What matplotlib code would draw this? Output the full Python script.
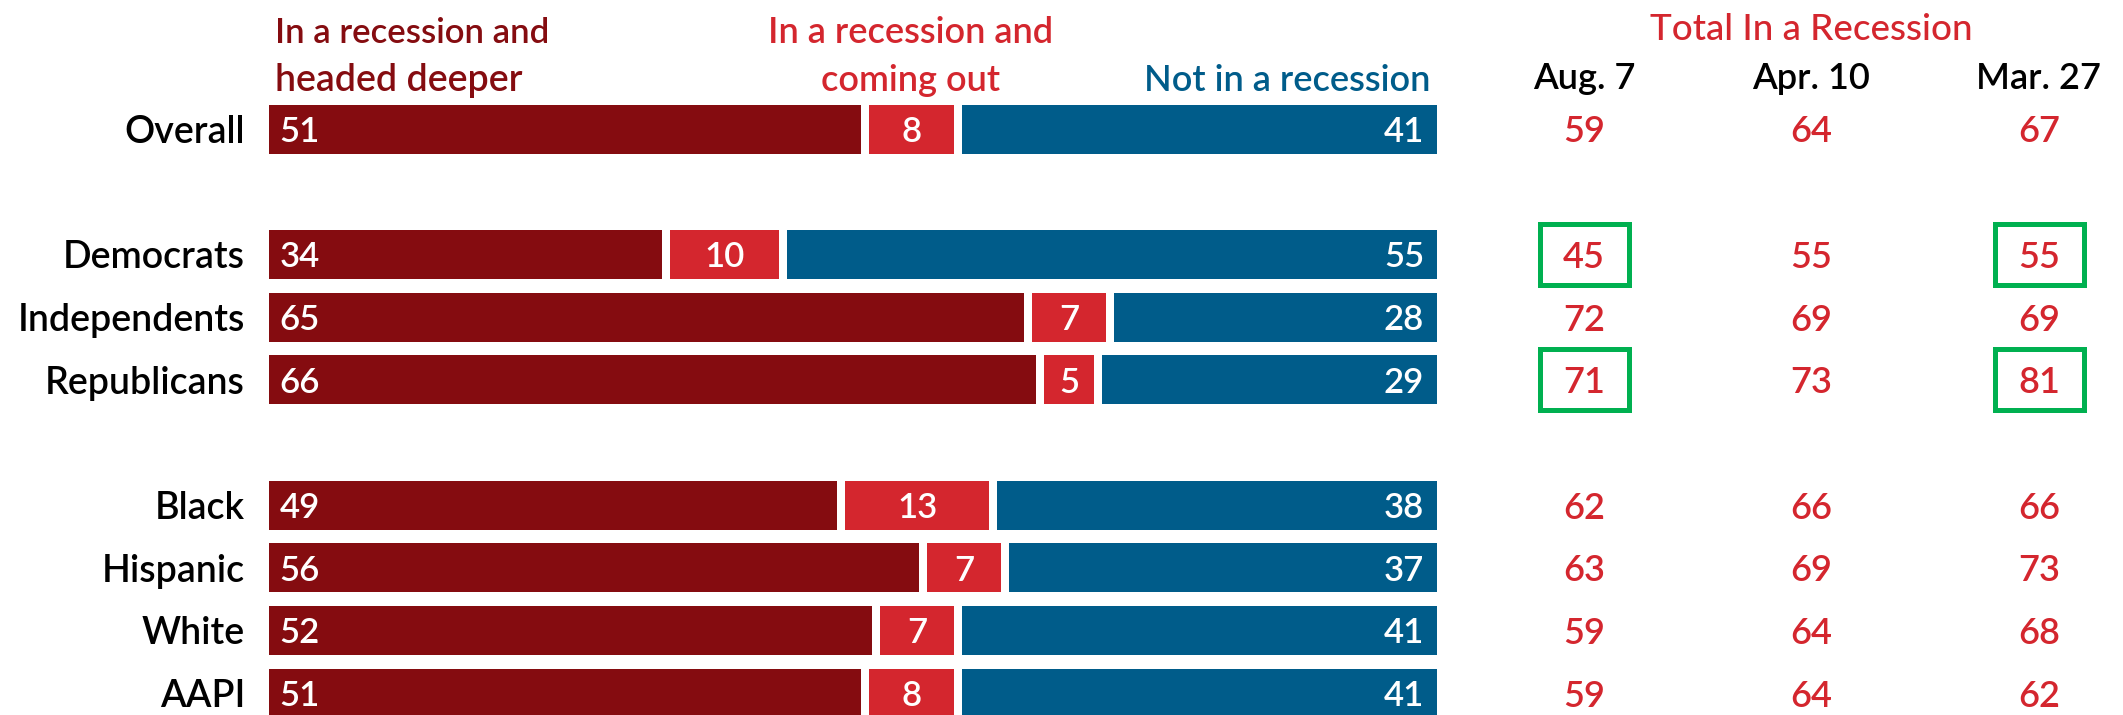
import matplotlib
matplotlib.use("Agg")
import matplotlib.pyplot as plt
from matplotlib.patches import Rectangle

plt.rcParams['font.family'] = ['Lato', 'DejaVu Sans']

# ---------------- data ----------------
categories = ["Overall", "Democrats", "Independents", "Republicans",
              "Black", "Hispanic", "White", "AAPI"]
groups = [1, 3, 4]  # number of rows in each group (blank row between groups)

deeper = [51, 34, 65, 66, 49, 56, 52, 51]
coming_out = [8, 10, 7, 5, 13, 7, 7, 8]
not_in = [41, 55, 28, 29, 38, 37, 41, 41]

series_labels = ["In a recession and\nheaded deeper",
                 "In a recession and\ncoming out",
                 "Not in a recession"]

table_title = "Total In a Recession"
dates = ["Aug. 7", "Apr. 10", "Mar. 27"]
aug7 = [59, 45, 72, 71, 62, 63, 59, 59]
apr10 = [64, 55, 69, 73, 66, 69, 64, 64]
mar27 = [67, 55, 69, 81, 66, 73, 68, 62]
highlights = [("Democrats", "Aug. 7"), ("Democrats", "Mar. 27"),
              ("Republicans", "Aug. 7"), ("Republicans", "Mar. 27")]

# ---------------- style ----------------
DARK = "#850C10"
RED = "#D4262E"
BLUE = "#005C8A"
GREEN = "#00B050"
W, H = 2123, 715
WT = "semibold"

# row positions
ypos = []
pos = 0
for g in groups:
    for _ in range(g):
        ypos.append(pos)
        pos += 1
    pos += 1

fig = plt.figure(figsize=(W / 100, H / 100), dpi=100)
fig.patch.set_facecolor("white")

row_px = 62.67
top_px = 129.0
y_top = -top_px / row_px
y_bot = ypos[-1] + (H - (top_px + ypos[-1] * row_px)) / row_px

def py(p):
    """pixel from top -> data y"""
    return (p - top_px) / row_px

# bar axes
bx0, bx1 = 269, 1437
ax = fig.add_axes([bx0 / W, 0, (bx1 - bx0) / W, 1])
ax.set_xlim(0, 100)
ax.set_ylim(y_bot, y_top)
ax.axis("off")

unit = (bx1 - bx0) / 100.0
gap = 8 / unit
bh = 49 / row_px

for y, a, b, c in zip(ypos, deeper, coming_out, not_in):
    ax.barh(y, a - gap / 2, left=0, height=bh, color=DARK)
    ax.barh(y, b - gap, left=a + gap / 2, height=bh, color=RED)
    blue_left = a + b + gap / 2
    ax.barh(y, 100 - blue_left, left=blue_left, height=bh, color=BLUE)
    fs = 25
    ax.text(0.9, y, str(a), color="white", fontsize=fs, ha="left",
            va="center_baseline", fontweight=WT)
    ax.text(a + b / 2, y, str(b), color="white", fontsize=fs, ha="center",
            va="center_baseline", fontweight=WT)
    ax.text(100 - 1.1, y, str(c), color="white", fontsize=fs, ha="right",
            va="center_baseline", fontweight=WT)

for y, name in zip(ypos, categories):
    ax.text(-2.05, y, name, color="black", fontsize=27, ha="right",
            va="center_baseline", fontweight=WT, clip_on=False)

# series headers
h1 = series_labels[0].split("\n")
h2 = series_labels[1].split("\n")
hfs = 26
ax.text(0.5, py(43), h1[0], color=DARK, fontsize=hfs - 1, ha="left", va="baseline", fontweight=WT)
ax.text(0.5, py(91), h1[1], color=DARK, fontsize=hfs + 1, ha="left", va="baseline", fontweight=WT)
ax.text(54.9, py(43), h2[0], color=RED, fontsize=hfs, ha="center", va="baseline", fontweight=WT)
ax.text(54.9, py(91), h2[1], color=RED, fontsize=hfs, ha="center", va="baseline", fontweight=WT)
ax.text(99.4, py(91), series_labels[2], color=BLUE, fontsize=hfs, ha="right", va="baseline", fontweight=WT)

# table axes
tx0 = 1470
col_px = 227.5
c0 = 1584
ax2 = fig.add_axes([tx0 / W, 0, (W - tx0) / W, 1])
ax2.set_xlim((tx0 - c0) / col_px, (W - c0) / col_px)
ax2.set_ylim(y_bot, y_top)
ax2.axis("off")

cols = [aug7, apr10, mar27]
ax2.text(1, py(40), table_title, color=RED, fontsize=26.5, ha="center", va="baseline", fontweight="medium")
for j, (d, vals) in enumerate(zip(dates, cols)):
    ax2.text(j, py(89), d, color="black", fontsize=26, ha="center", va="baseline", fontweight=WT)
    for y, v in zip(ypos, vals):
        ax2.text(j, y, str(v), color=RED, fontsize=26, ha="center", va="center_baseline", fontweight=WT)

bw = 89 / col_px
bhh = 61 / row_px
for cat, d in highlights:
    y = ypos[categories.index(cat)]
    j = dates.index(d)
    ax2.add_patch(Rectangle((j - bw / 2, y - bhh / 2), bw, bhh, fill=False,
                            edgecolor=GREEN, linewidth=3.6, clip_on=False))

fig.savefig("out.png", dpi=100, facecolor="white")
